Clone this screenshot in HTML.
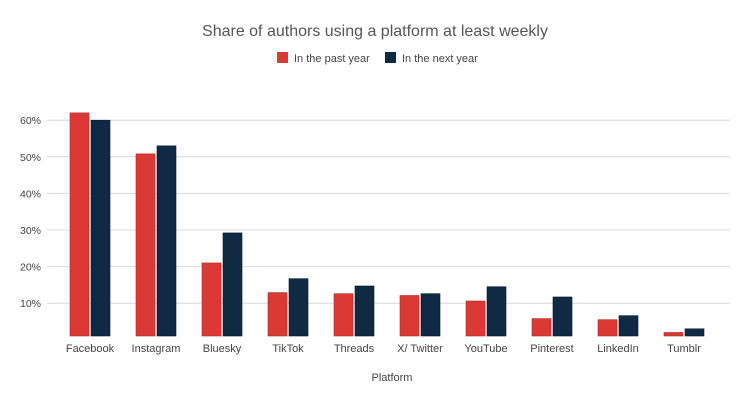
<!DOCTYPE html>
<html><head><meta charset="utf-8"><style>
body{margin:0;background:#fff;}
svg{display:block;font-family:"Liberation Sans",sans-serif;}
</style></head><body>
<svg id="chart" width="750" height="403">
<text x="375" y="36" text-anchor="middle" font-size="16" fill="#555">Share of authors using a platform at least weekly</text>
<g>
<rect x="277" y="52" width="11" height="11" fill="#db3a34"/>
<text x="294" y="62" font-size="11" fill="#444">In the past year</text>
<rect x="385" y="52" width="11" height="11" fill="#0f2a42"/>
<text x="402" y="62" font-size="11" fill="#444">In the next year</text>
</g>
<g id="grid"></g><g id="bars"></g><g id="xlabels"></g>
<text x="392" y="381" text-anchor="middle" font-size="11" fill="#444">Platform</text>
</svg>
<script>
const categories=["Facebook","Instagram","Bluesky","TikTok","Threads","X/ Twitter","YouTube","Pinterest","LinkedIn","Tumblr"];
const pastYear=[62,50.8,21,12.9,12.6,12.1,10.6,5.8,5.5,2.0];
const nextYear=[60,53,29.2,16.7,14.7,12.6,14.5,11.7,6.6,3.0];
const yTicks=[10,20,30,40,50,60];
const NS="http://www.w3.org/2000/svg";
const zeroY=339.8,pxPer=3.66,base=336;
function y(v){return zeroY-v*pxPer;}
function xc(i){return 90+i*66;}
function mk(t,a,p){const e=document.createElementNS(NS,t);for(const k in a)e.setAttribute(k,a[k]);p.appendChild(e);return e;}
const grid=document.getElementById('grid');
yTicks.forEach(t=>{
 const l=mk('line',{x1:47,x2:730,y1:y(t),y2:y(t),stroke:'#d9d9d9','stroke-width':1},grid);
 
 
 const tx=mk('text',{x:41,y:y(t)+4,'text-anchor':'end','font-size':10.5,fill:'#444'},grid);
 tx.textContent=t+'%';
 
 
});
const bars=document.getElementById('bars'),xl=document.getElementById('xlabels');
categories.forEach((c,i)=>{
 const cx=xc(i);
 const r=mk('rect',{x:cx-20,y:y(pastYear[i]),width:19,height:base-y(pastYear[i]),fill:'#db3a34',stroke:'#b02a25','stroke-width':0.6},bars);
 
 
 const n=mk('rect',{x:cx+1,y:y(nextYear[i]),width:19,height:base-y(nextYear[i]),fill:'#0f2a42',stroke:'#0a1a2a','stroke-width':0.6},bars);
 
 
 const t=mk('text',{x:cx,y:352,'text-anchor':'middle','font-size':11,fill:'#444'},xl);
 t.textContent=c;
 
 
});
</script>
</body></html>
